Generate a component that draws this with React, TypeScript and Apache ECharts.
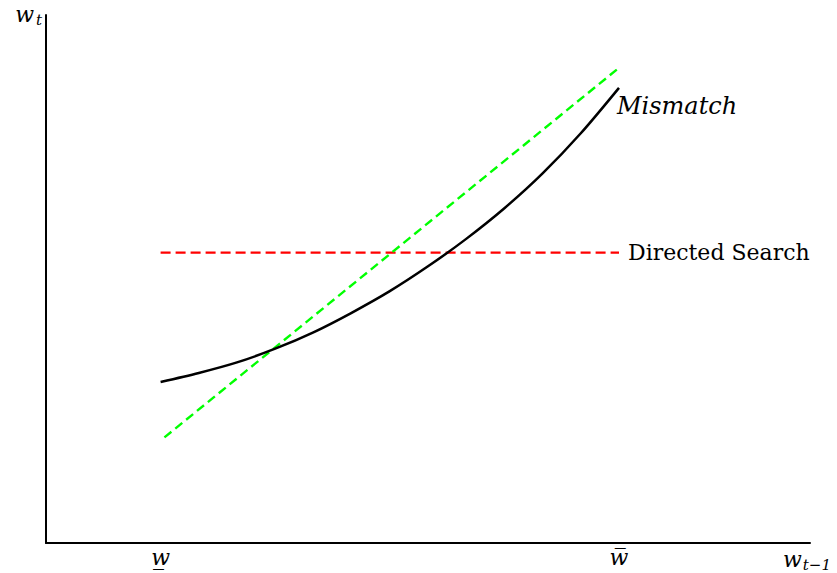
import React, { useEffect, useRef } from 'react';
import * as echarts from 'echarts';

// Mismatch curve
const mismatchX = [1.5, 2.0, 2.5, 3.0, 3.5, 4.0, 4.5, 5.0, 5.5, 6.0, 6.5, 7.0, 7.5];
const mismatchY = [3.05, 3.22, 3.42, 3.68, 3.99, 4.36, 4.77, 5.24, 5.76, 6.34, 7.0, 7.76, 8.62];
// Directed search (horizontal)
const directedX = [1.5, 7.5];
const directedY = [5.5, 5.5];
// Assortative matching (straight line)
const assortX = [1.55, 7.5];
const assortY = [2.0, 9.0];
// x-axis tick positions and labels
const xTicks = [1.5, 7.5];
const xTickLabels = ['w\u0332', 'w\u0305'];

const serif = 'DejaVu Serif';

export default function App() {
  const ref = useRef<HTMLDivElement>(null);
  useEffect(() => {
    if (!ref.current) return;
    const chart = echarts.init(ref.current, null, { renderer: 'svg' });
    const zip = (xs: number[], ys: number[]) => xs.map((x, i) => [x, ys[i]]);
    chart.setOption({
      animation: false,
      backgroundColor: '#ffffff',
      grid: { left: 46, right: 27, top: 15, bottom: 30 },
      xAxis: {
        type: 'value',
        min: 0,
        max: 10,
        name: '{w|w}{s|t\u22121}',
        nameLocation: 'end',
        nameGap: -27,
        nameTextStyle: {
          align: 'left',
          verticalAlign: 'top',
          padding: [4, 0, 0, 0],
          rich: {
            w: { fontFamily: serif, fontStyle: 'italic', fontSize: 22, color: '#000' },
            s: { fontFamily: serif, fontStyle: 'italic', fontSize: 15, color: '#000', padding: [10, 0, 0, 1] },
          },
        },
        axisLine: { show: true, onZero: false, lineStyle: { color: '#000', width: 2 } },
        axisTick: { show: false },
        splitLine: { show: false },
        axisLabel: {
          customValues: xTicks,
          formatter: (v: number) => {
            const i = xTicks.indexOf(v);
            return i >= 0 ? xTickLabels[i] : '';
          },
          fontFamily: serif,
          fontStyle: 'italic',
          fontSize: 22,
          color: '#000',
          margin: 3,
        },
      },
      yAxis: {
        type: 'value',
        min: 0,
        max: 10,
        name: '{w|w}{s|t}',
        nameLocation: 'end',
        nameGap: -12,
        nameTextStyle: {
          align: 'right',
          verticalAlign: 'bottom',
          padding: [0, 4, 0, 0],
          rich: {
            w: { fontFamily: serif, fontStyle: 'italic', fontSize: 22, color: '#000' },
            s: { fontFamily: serif, fontStyle: 'italic', fontSize: 15, color: '#000', padding: [10, 0, 0, 2] },
          },
        },
        axisLine: { show: true, onZero: false, lineStyle: { color: '#000', width: 2 } },
        axisTick: { show: false },
        splitLine: { show: false },
        axisLabel: { show: false },
      },
      series: [
        {
          type: 'line',
          name: 'Directed Search',
          data: zip(directedX, directedY),
          symbol: 'none',
          lineStyle: { color: '#ff0000', width: 2.4, type: [10, 5] },
          endLabel: {
            show: true,
            formatter: 'Directed Search',
            fontFamily: serif,
            fontSize: 22,
            color: '#000',
            distance: 9,
          },
        },
        {
          type: 'line',
          name: 'Assortative Matching',
          data: zip(assortX, assortY).map((p, i) =>
            i === 0
              ? {
                  value: p,
                  label: {
                    show: true,
                    position: 'right',
                    distance: 6,
                    formatter: 'Assortative Matching',
                    fontFamily: serif,
                    fontSize: 22,
                    color: '#000',
                  },
                }
              : { value: p }
          ),
          symbol: 'none',
          lineStyle: { color: '#00ff00', width: 2.4, type: [9, 5] },
        },
        {
          type: 'line',
          name: 'Mismatch',
          data: zip(mismatchX, mismatchY),
          symbol: 'none',
          smooth: 0.3,
          lineStyle: { color: '#000', width: 2.5 },
          endLabel: {
            show: true,
            formatter: 'Mismatch',
            fontFamily: serif,
            fontStyle: 'italic',
            fontSize: 24,
            color: '#000',
            distance: 0,
            offset: [-2, 18],
          },
        },
      ],
    });
    return () => chart.dispose();
  }, []);
  return (
    <div
      ref={ref}
      style={{ position: 'fixed', left: 0, top: 0, width: 837, height: 573 }}
    />
  );
}
